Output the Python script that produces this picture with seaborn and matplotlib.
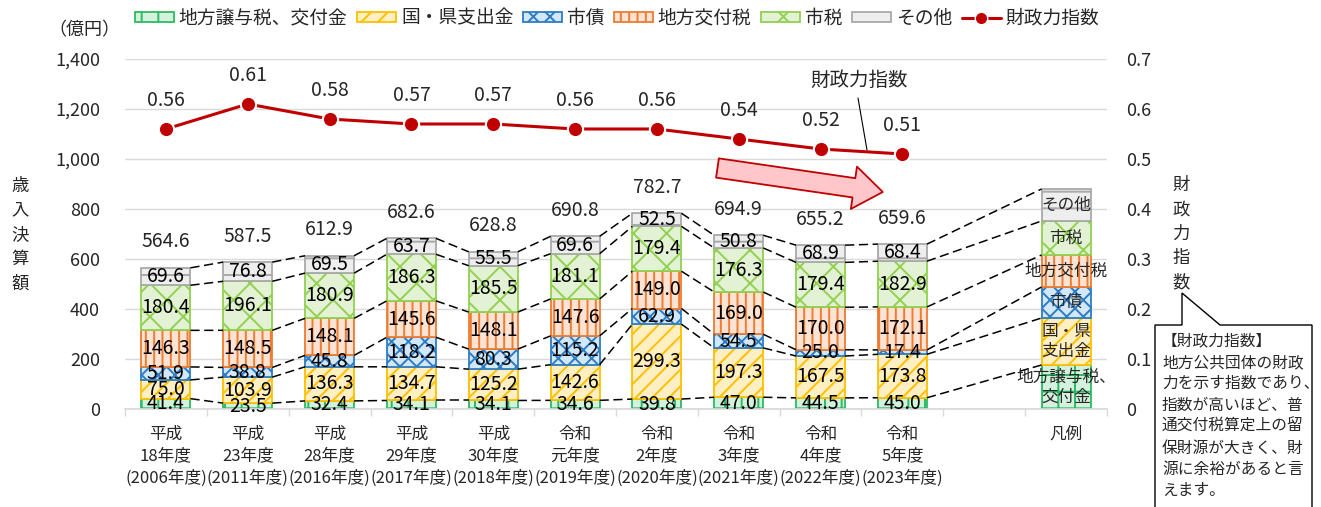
import numpy as np
import pandas as pd
import matplotlib
matplotlib.use("Agg")
import matplotlib.pyplot as plt
import seaborn as sns
from matplotlib.patches import Polygon, Rectangle
from matplotlib.lines import Line2D

# ---- data (億円) ----
years = [
    "平成\n18年度\n(2006年度)", "平成\n23年度\n(2011年度)", "平成\n28年度\n(2016年度)",
    "平成\n29年度\n(2017年度)", "平成\n30年度\n(2018年度)", "令和\n元年度\n(2019年度)",
    "令和\n2年度\n(2020年度)", "令和\n3年度\n(2021年度)", "令和\n4年度\n(2022年度)",
    "令和\n5年度\n(2023年度)",
]
jouyo = [41.4, 23.5, 32.4, 34.1, 34.1, 34.6, 39.8, 47.0, 44.5, 45.0]          # 地方譲与税、交付金
kuniken = [75.0, 103.9, 136.3, 134.7, 125.2, 142.6, 299.3, 197.3, 167.5, 173.8]  # 国・県支出金
shisai = [51.9, 38.8, 45.8, 118.2, 80.3, 115.2, 62.9, 54.5, 25.0, 17.4]       # 市債
koufuzei = [146.3, 148.5, 148.1, 145.6, 148.1, 147.6, 149.0, 169.0, 170.0, 172.1]  # 地方交付税
shizei = [180.4, 196.1, 180.9, 186.3, 185.5, 181.1, 179.4, 176.3, 179.4, 182.9]  # 市税
sonota = [69.6, 76.8, 69.5, 63.7, 55.5, 69.6, 52.5, 50.8, 68.9, 68.4]        # その他
totals = [564.6, 587.5, 612.9, 682.6, 628.8, 690.8, 782.7, 694.9, 655.2, 659.6]
zaisei = [0.56, 0.61, 0.58, 0.57, 0.57, 0.56, 0.56, 0.54, 0.52, 0.51]        # 財政力指数

# sample bar used as the key next to the data (segment heights)
key_block = [176, 188, 124, 128, 136, 128]
key_names = ["地方譲与税、\n交付金", "国・県\n支出金", "市債", "地方交付税", "市税", "その他"]
series_names = ["地方譲与税、交付金", "国・県支出金", "市債", "地方交付税", "市税", "その他"]

# ---- style ----
sns.set_theme(style="white")
plt.rcParams["font.family"] = ["Noto Sans CJK JP", "DejaVu Sans"]
plt.rcParams["hatch.linewidth"] = 1.4

W, H = 1321, 507
fx = lambda px: px / W
fy = lambda py: 1 - py / H

fills = ["#D3F1DD", "#FFEFC2", "#D2E7F8", "#FCE3D4", "#E3F2D5", "#EEEEEE"]
edges = ["#2DBA62", "#FFC000", "#2E7CC4", "#ED7D31", "#92D050", "#A9A9A9"]
hatches = ["+", "//", "xx", "||", "x", "-"]

fig = plt.figure(figsize=(W / 100, H / 100), dpi=100)
ax = fig.add_axes([fx(125), fy(409), fx(1107) - fx(125), fy(59) - fy(409)])

x = np.arange(len(years))
key_x = len(years) + 1
bw = 0.6
segments = [jouyo, kuniken, shisai, koufuzei, shizei, sonota]

bottom = np.zeros(len(years))
key_bottom = 0.0
tops, key_tops = [], []
for k, vals in enumerate(segments):
    vals = np.asarray(vals)
    ax.bar(x, vals, bw, bottom=bottom, color=fills[k], edgecolor=edges[k],
           hatch=hatches[k], linewidth=1.3, zorder=2)
    for xi, b, v in zip(x, bottom, vals):
        ax.text(xi, b + v / 2, f"{v:.1f}", ha="center", va="center",
                fontsize=14, color="black", zorder=6)
    ax.bar([key_x], [key_block[k]], bw, bottom=[key_bottom], color=fills[k],
           edgecolor=edges[k], hatch=hatches[k], linewidth=1.3, zorder=2)
    ax.text(key_x, key_bottom + key_block[k] / 2, key_names[k], ha="center",
            va="center", fontsize=12, linespacing=1.25, zorder=6)
    bottom = bottom + vals
    key_bottom += key_block[k]
    tops.append(bottom.copy())
    key_tops.append(key_bottom)

# dashed series lines joining segment tops
dash = (0, (6, 3))
for k in range(len(segments)):
    for i in range(len(years) - 1):
        ax.plot([x[i] + bw / 2, x[i + 1] - bw / 2], [tops[k][i], tops[k][i + 1]],
                color="black", lw=1.1, ls=dash, zorder=3)
    ax.plot([x[-1] + bw / 2, key_x - bw / 2], [tops[k][-1], key_tops[k]],
            color="black", lw=1.1, ls=dash, zorder=3)

# totals above bars
for xi, t in zip(x, totals):
    ax.annotate(f"{t:.1f}", (xi, t), xytext=(0, 26), textcoords="offset pixels",
                ha="center", va="center", fontsize=14)

# axes cosmetics
ax.set_xlim(-0.5, len(years) + 1.5)
ax.set_ylim(0, 1400)
ax.set_yticks(range(0, 1401, 200))
ax.set_yticklabels([f"{v:,}" for v in range(0, 1401, 200)])
ax.yaxis.grid(True, color="#D9D9D9", lw=1)
ax.xaxis.grid(False)
ax.set_axisbelow(True)
for s in ["left", "right", "top"]:
    ax.spines[s].set_visible(False)
ax.spines["bottom"].set_color("#D9D9D9")
ax.set_xticks(list(x) + [len(years), key_x])
ax.set_xticklabels(years + ["", "凡例"])
ax.set_xticks(np.arange(-0.5, len(years) + 2, 1), minor=True)
ax.tick_params(axis="x", which="major", length=0, pad=12, labelsize=12)
ax.tick_params(axis="x", which="minor", length=5, color="#D9D9D9", width=1, bottom=True)
ax.tick_params(axis="y", length=0, pad=18, labelsize=13)
for t in ax.get_xticklabels():
    t.set_linespacing(1.38)

# financial capability index on secondary axis
ax2 = ax.twinx()
df = pd.DataFrame({"year": x, "index": zaisei})
sns.lineplot(data=df, x="year", y="index", ax=ax2, color="#C00000", lw=2.2,
             marker="o", markersize=11, markeredgecolor="white", markeredgewidth=1.5)
ax2.set_ylim(0, 0.7)
ax2.set_yticks(np.arange(0, 0.71, 0.1))
ax2.set_yticklabels(["0"] + [f"{v:.1f}" for v in np.arange(0.1, 0.71, 0.1)])
ax2.tick_params(axis="y", length=0, pad=14, labelsize=13)
ax2.set_xlabel("")
ax2.set_ylabel("")
for s in ax2.spines.values():
    s.set_visible(False)
ax2.set_xlim(-0.5, len(years) + 1.5)
for xi, v in zip(x, zaisei):
    ax2.annotate(f"{v:.2f}", (xi, v), xytext=(0, 28), textcoords="offset pixels",
                 ha="center", va="center", fontsize=14)

# downward trend arrow
ax.annotate("", xy=(8.76, 868), xytext=(6.74, 964),
            arrowprops=dict(arrowstyle="simple,head_length=1.5,head_width=2.2,tail_width=1.0",
                            mutation_scale=14, fc="#FFC7C9", ec="#C00000", lw=1.3,
                            shrinkA=0, shrinkB=0), zorder=7)

# callout label for the index line
fig.text(fx(859), fy(80), "財政力指数", ha="center", va="center", fontsize=14)
fig.add_artist(Line2D([fx(858), fx(867)], [fy(98), fy(150)], color="black", lw=0.8))

# axis titles
fig.text(fx(48), fy(30), "（億円）", ha="left", va="center", fontsize=13)
fig.text(fx(20), fy(235), "歳\n入\n決\n算\n額", ha="center", va="center",
         fontsize=12.5, linespacing=1.45)
fig.text(fx(1181), fy(234), "財\n政\n力\n指\n数", ha="center", va="center",
         fontsize=12.5, linespacing=1.45)

# explanation box with pointer
pts = [(1155, 325), (1182, 325), (1182, 293), (1220, 325), (1312, 325),
       (1312, 520), (1155, 520)]
fig.add_artist(Polygon([(fx(a), fy(b)) for a, b in pts], closed=True,
                       fc="white", ec="black", lw=1.0, clip_on=False))
note = ["【財政力指数】", "地方公共団体の財政", "力を示す指数であり、", "指数が高いほど、普",
        "通交付税算定上の留", "保財源が大きく、財", "源に余裕があると言", "えます。"]
for j, line in enumerate(note):
    fig.text(fx(1162), fy(341 + 21.4 * j), line, ha="left", va="center", fontsize=11.3)

# legend
handles = [Rectangle((0, 0), 1, 1, fc=fills[k], ec=edges[k], hatch=hatches[k], lw=1.3)
           for k in range(6)]
handles.append(Line2D([], [], color="#C00000", lw=2.2, marker="o", markersize=9,
                      markeredgecolor="white", markeredgewidth=1))
fig.legend(handles, series_names + ["財政力指数"], loc="center",
           bbox_to_anchor=(fx(617), fy(18)), ncol=7, frameon=False, fontsize=13.5,
           handlelength=2.1, handleheight=0.5, handletextpad=0.25, columnspacing=0.5)

fig.savefig("out.png", dpi=100)
